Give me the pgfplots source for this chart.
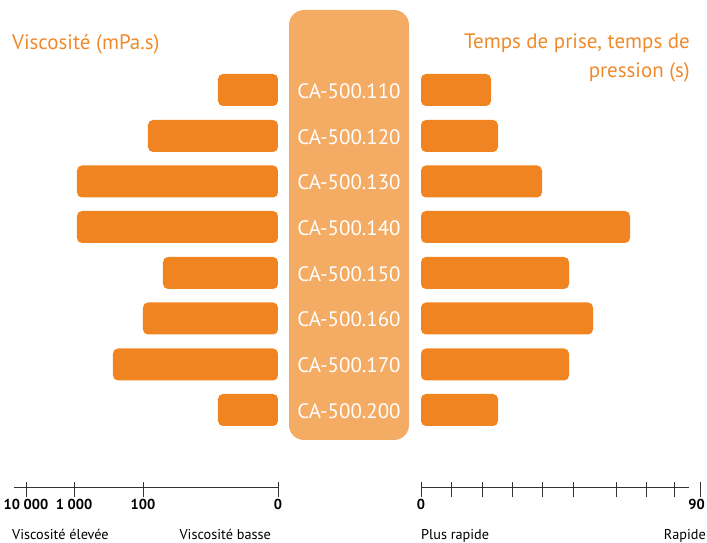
\documentclass[border=0pt]{standalone}
\usepackage{fontspec}
\setmainfont{PT Sans}
\usepackage{pgfplots}
\usepackage{pgfplotstable}
\pgfplotsset{compat=1.18}

\definecolor{barorange}{HTML}{EF8420}
\definecolor{colorange}{HTML}{F4AC64}
\definecolor{titleorange}{HTML}{EF8A2A}
\definecolor{axisgray}{HTML}{333333}

% y: bar centre, visc: bar length on the viscosity scale, temps: bar length on the time scale
\pgfplotstableread{
y     visc temps
397   60   70
351   130  77
305.5 201  121
260   201  209
214   115  148
168.5 135  172
122.5 165  148
77    60   77
}\bardata

\pgfplotstableread[col sep=comma]{
x,y,label
60,349,CA-500.110
60,303,CA-500.120
60,257.5,CA-500.130
60,212,CA-500.140
60,166,CA-500.150
60,120.5,CA-500.160
60,74.5,CA-500.170
60,29,CA-500.200
}\labels

\pgfplotsset{
  pxaxis/.style={
    x=1bp, y=1bp, scale only axis, clip=false, enlargelimits=false,
    axis line style={axisgray, line width=0.8bp},
    tick style={axisgray, line width=0.8bp, yshift=-2.5bp},
    tick align=center, major tick length=15bp,
    xticklabel style={font=\fontsize{14.5}{14.5}\selectfont\bfseries, text=black, yshift=-1bp},
  },
}

\begin{document}
\begin{tikzpicture}
\path[use as bounding box] (0,0) rectangle (707bp,543bp);

% viscosity
\begin{axis}[pxaxis, at={(14bp,56bp)}, anchor=south west,
  x dir=reverse, xmin=0, xmax=264, ymin=0, ymax=487,
  axis x line*=bottom, axis y line=none,
  xtick={0,135,204,252}, xticklabels={0,100,1 000,10 000}]
\addplot[xbar, bar width=32, fill=barorange, draw=none, rounded corners=5bp]
  table[x=visc, y=y] {\bardata};
\end{axis}

% setting / pressing time
\begin{axis}[pxaxis, at={(421bp,56bp)}, anchor=south west,
  xmin=0, xmax=279, ymin=0, ymax=487,
  axis x line*=bottom, axis y line=none,
  x axis line style={shorten >=11bp},
  xtick={0,30,61,91,121,152,195,225,253,279}, xticklabels={0,,,,,,,,,90\kern7bp}]
\addplot[xbar, bar width=32, fill=barorange, draw=none, rounded corners=5bp]
  table[x=temps, y=y] {\bardata};
\end{axis}

% product column
\begin{axis}[pxaxis, at={(289bp,103bp)}, anchor=south west,
  xmin=0, xmax=120, ymin=0, ymax=430, hide axis]
\addplot[ybar, bar width=120, fill=colorange, draw=none, rounded corners=15bp]
  coordinates {(60,430)};
\addplot[draw=none, mark=none, nodes near coords, point meta=explicit symbolic,
  nodes near coords style={anchor=center, text=white, font=\fontsize{21}{21}\selectfont}]
  table[x=x, y=y, meta=label] {\labels};
\end{axis}

\node[anchor=base west, text=titleorange, font=\fontsize{21}{21}\selectfont, inner sep=0pt]
  at (12bp,493bp) {Viscosité (mPa.s)};
\node[anchor=base east, text=titleorange, font=\fontsize{21}{21}\selectfont, inner sep=0pt]
  at (690bp,494bp) {Temps de prise, temps de};
\node[anchor=base east, text=titleorange, font=\fontsize{21}{21}\selectfont, inner sep=0pt]
  at (690bp,465bp) {pression (s)};

\node[anchor=base west, font=\fontsize{14.3}{14.3}\selectfont, inner sep=0pt] at (12bp,4bp) {Viscosité élevée};
\node[anchor=base east, font=\fontsize{14.3}{14.3}\selectfont, inner sep=0pt] at (271bp,4bp) {Viscosité basse};
\node[anchor=base west, font=\fontsize{14.3}{14.3}\selectfont, inner sep=0pt] at (421bp,4bp) {Plus rapide};
\node[anchor=base east, font=\fontsize{14.3}{14.3}\selectfont, inner sep=0pt] at (706bp,4bp) {Rapide};
\end{tikzpicture}
\end{document}
